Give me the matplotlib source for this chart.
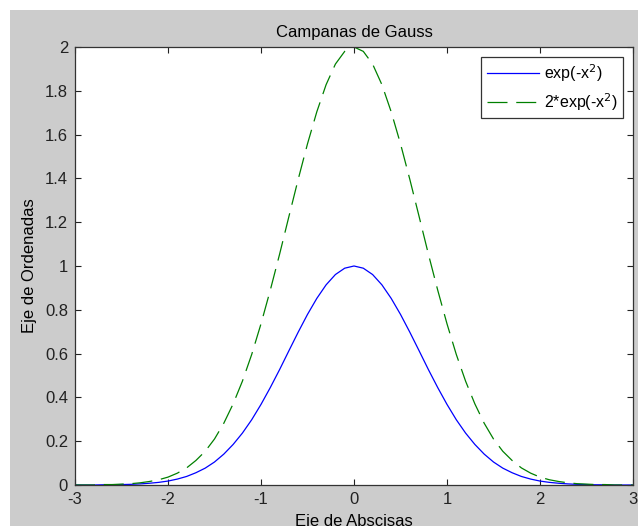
import numpy as np
import matplotlib.pyplot as plt
from matplotlib.patches import Rectangle

plt.rcParams['font.family'] = ['Liberation Sans', 'DejaVu Sans']

# values, x from -3 to 3 in steps of 0.1
x = np.round(np.arange(-30, 31) / 10, 1)
half1 = [1.000, 0.990, 0.961, 0.914, 0.852, 0.779, 0.698, 0.613, 0.527, 0.445,
         0.368, 0.298, 0.237, 0.185, 0.141, 0.105, 0.077, 0.056, 0.039, 0.027,
         0.018, 0.012, 0.008, 0.005, 0.003, 0.002, 0.001, 0.001, 0.000, 0.000, 0.000]
half2 = [2.000, 1.980, 1.922, 1.828, 1.704, 1.558, 1.396, 1.226, 1.054, 0.890,
         0.736, 0.596, 0.474, 0.370, 0.282, 0.210, 0.154, 0.112, 0.078, 0.054,
         0.036, 0.024, 0.016, 0.010, 0.006, 0.004, 0.002, 0.002, 0.000, 0.000, 0.000]
y1 = half1[::-1] + half1[1:]
y2 = half2[::-1] + half2[1:]

xticks = [-3, -2, -1, 0, 1, 2, 3]
yticks = [0, 0.2, 0.4, 0.6, 0.8, 1, 1.2, 1.4, 1.6, 1.8, 2]

fig = plt.figure(figsize=(6.38, 5.26), dpi=100)
fig.patch.set_facecolor('white')
fig.patches.append(Rectangle((10 / 638, 0), 1, 516 / 526, transform=fig.transFigure,
                             facecolor='#cccccc', edgecolor='none', zorder=-10))

ax = fig.add_axes([75 / 638, 41 / 526, 558 / 638, 438 / 526])
ax.plot(x, y1, color='#0000ff', lw=0.9, label='exp(-x$^2$)')
ax.plot(x, y2, color='#008000', lw=0.9, dashes=(16, 7), label='2*exp(-x$^2$)')

ax.set_xlim(-3, 3)
ax.set_ylim(0, 2)
ax.set_xticks(xticks)
ax.set_xticklabels(['-3', '-2', '-1', '0', '1', '2', '3'])
ax.set_yticks(yticks)
ax.set_yticklabels(['0', '0.2', '0.4', '0.6', '0.8', '1', '1.2', '1.4', '1.6', '1.8', '2'])
ax.tick_params(direction='in', top=True, right=True, length=4, width=0.8,
               labelsize=12, colors='#222222', pad=5)
for s in ax.spines.values():
    s.set_color('#333333')
    s.set_linewidth(0.9)

ax.set_title('Campanas de Gauss', fontsize=12, pad=7)
ax.set_xlabel('Eje de Abscisas', fontsize=12, labelpad=5)
ax.set_ylabel('Eje de Ordenadas', fontsize=12, labelpad=6)

leg = ax.legend(loc='upper right', fontsize=11.5, fancybox=False, framealpha=1,
                edgecolor='#333333', borderpad=0.35, handlelength=3.3,
                handletextpad=0.3, borderaxespad=0.6, labelspacing=0.45)
leg.get_frame().set_linewidth(0.9)

fig.savefig('out.png', dpi=100)
